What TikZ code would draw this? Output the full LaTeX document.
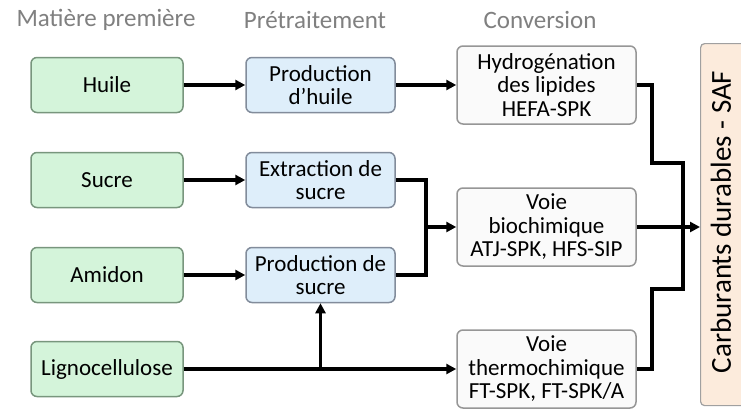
\documentclass[tikz,border=0pt]{standalone}
\usepackage{fontspec}
\setmainfont{Carlito}
\usetikzlibrary{arrows.meta}
\definecolor{hdrgray}{RGB}{128,128,128}
\definecolor{greenfill}{RGB}{212,244,218}
\definecolor{greenborder}{RGB}{120,150,125}
\definecolor{bluefill}{RGB}{222,238,250}
\definecolor{blueborder}{RGB}{130,140,155}
\definecolor{convfill}{RGB}{250,250,250}
\definecolor{convborder}{RGB}{150,150,150}
\definecolor{saffill}{RGB}{252,235,220}
\definecolor{safborder}{RGB}{160,160,160}
\tikzset{
  hdr/.style={text=hdrgray, font=\fontsize{25}{28}\selectfont, anchor=center},
  basebox/.style={rounded corners=6pt, line width=1.5pt, align=center, inner sep=0pt,
    font=\fontsize{23}{23.5}\selectfont},
  rawbox/.style={basebox, fill=greenfill, draw=greenborder, minimum width=152pt, minimum height=55pt},
  prebox/.style={basebox, fill=bluefill, draw=blueborder, minimum width=149pt, minimum height=55pt},
  convbox/.style={basebox, fill=convfill, draw=convborder, minimum width=179pt, minimum height=78pt},
  link/.style={line width=3.2pt, black},
  arr/.style={link, -{Triangle[length=10pt,width=10pt]}},
}
\begin{document}
\begin{tikzpicture}[x=1pt,y=-1pt]
\useasboundingbox (0,0) rectangle (741,410);
\fill[white] (0,0) rectangle (741,410);
% headers
\node[hdr] (h1) at (106,20) {Matière première};
\node[hdr] (h2) at (315,20) {Prétraitement};
\node[hdr] (h3) at (540,20) {Conversion};
% raw materials
\node[rawbox] (huile) at (107,85) {Huile};
\node[rawbox] (sucre) at (107,180) {Sucre};
\node[rawbox] (amidon) at (107,275) {Amidon};
\node[rawbox] (ligno) at (107,369) {Lignocellulose};
% pretreatment
\node[prebox] (prodh) at (320.5,85) {Production\\d’huile};
\node[prebox] (extr) at (320.5,180) {Extraction de\\sucre};
\node[prebox] (prods) at (320.5,275) {Production de\\sucre};
% conversion
\node[convbox] (hydro) at (546.5,85) {Hydrogénation\\des lipides\\HEFA-SPK};
\node[convbox] (bio) at (546.5,227) {Voie\\biochimique\\ATJ-SPK, HFS-SIP};
\node[convbox] (thermo) at (546.5,369) {Voie\\thermochimique\\FT-SPK, FT-SPK/A};
% SAF bar
\node[draw=safborder, fill=saffill, line width=1.2pt, rounded corners=4pt,
      minimum width=52pt, minimum height=362pt, inner sep=0pt, anchor=north west] (saf) at (700,43) {};
\node[rotate=90, font=\fontsize{29}{32}\selectfont] (saftxt) at (721,222) {Carburants durables - SAF};
% coordinates
\coordinate (j) at (426,227);
\coordinate (s1) at (652,163);
\coordinate (s2) at (652,289);
\coordinate (bus) at (683,227);
% connectors
\draw[arr] (huile) -- (prodh);
\draw[arr] (prodh) -- (hydro);
\draw[arr] (sucre) -- (extr);
\draw[arr] (amidon) -- (prods);
\draw[link] (extr.east) -| (j);
\draw[link] (prods.east) -| (j);
\draw[arr] (j) -- (bio.west);
\draw[arr] (ligno) -- (thermo);
\draw[arr] (prods.south |- ligno.east) -- (prods.south);
\draw[link] (hydro.east) -| (s1) -| (bus);
\draw[link] (thermo.east) -| (s2) -| (bus);
\draw[arr] (bio.east) -- (bio.east -| saf.west);
\end{tikzpicture}
\end{document}
